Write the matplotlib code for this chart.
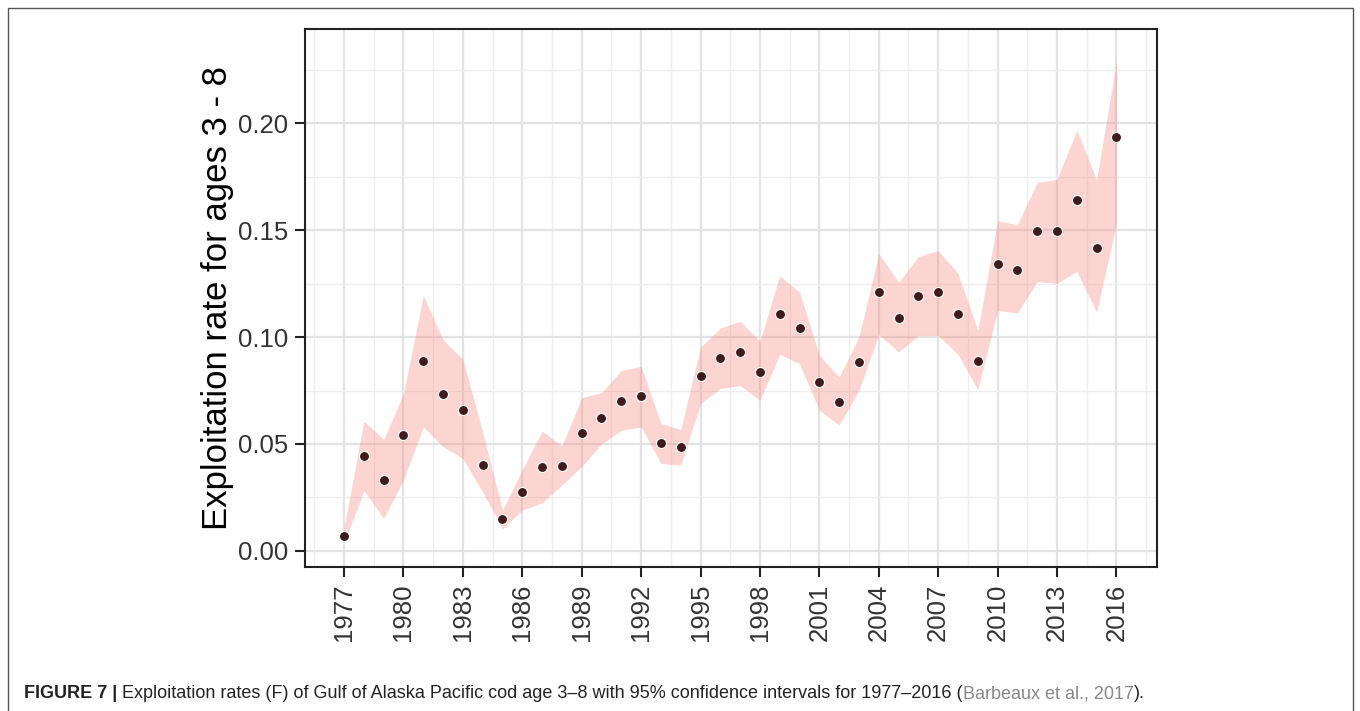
import numpy as np
import matplotlib
matplotlib.use('Agg')
import matplotlib.pyplot as plt
from matplotlib.patches import Rectangle

## data ##
years = np.arange(1977, 2017)

F = [0.007, 0.0445, 0.033, 0.054, 0.089, 0.0734, 0.0658, 0.0404, 0.0149, 0.0274,
     0.0392, 0.0398, 0.0552, 0.0623, 0.070, 0.0725, 0.0505, 0.0487, 0.0818, 0.0902,
     0.0931, 0.0835, 0.1109, 0.1043, 0.0788, 0.0694, 0.0885, 0.121, 0.109, 0.119,
     0.121, 0.1108, 0.0888, 0.134, 0.1315, 0.1494, 0.1494, 0.1642, 0.1418, 0.1937]

upper = [0.011, 0.0606, 0.0522, 0.0735, 0.1194, 0.0987, 0.0896, 0.0555, 0.0191, 0.038,
         0.0561, 0.049, 0.0716, 0.074, 0.0844, 0.0863, 0.0596, 0.0568, 0.0953, 0.1042,
         0.1074, 0.098, 0.1287, 0.121, 0.0914, 0.0813, 0.100, 0.1391, 0.1256, 0.1376,
         0.1404, 0.1298, 0.1031, 0.1544, 0.1525, 0.1723, 0.1737, 0.1967, 0.1734, 0.229]

lower = [0.004, 0.0281, 0.0152, 0.0331, 0.058, 0.0487, 0.0432, 0.0275, 0.0104, 0.0191,
         0.0225, 0.0308, 0.0395, 0.050, 0.0564, 0.058, 0.0409, 0.0401, 0.0689, 0.0759,
         0.0774, 0.0704, 0.0919, 0.0875, 0.0658, 0.0588, 0.0751, 0.1012, 0.093, 0.1007,
         0.1007, 0.0919, 0.0754, 0.1124, 0.1113, 0.1259, 0.1251, 0.1307, 0.1116, 0.1528]

xticks = np.arange(1977, 2017, 3)
yticks = [0.00, 0.05, 0.10, 0.15, 0.20]

caption_bold = 'FIGURE 7 |'
caption_text = ' Exploitation rates (F) of Gulf of Alaska Pacific cod age 3\u20138 with 95% confidence intervals for 1977\u20132016 ('
caption_ref = 'Barbeaux et al., 2017'
caption_end = ').'

plt.rcParams['font.family'] = ['Liberation Sans', 'DejaVu Sans']

fig = plt.figure(figsize=(13.6, 7.11), dpi=100)
W, H = 1360, 711
ax = fig.add_axes([305/W, 1 - 567/H, (1157-305)/W, (567-29)/H])

ax.fill_between(years, lower, upper, color='#f8766d', alpha=0.3, lw=0, zorder=2)
ax.scatter(years, F, s=52, color='#3f1c1b', edgecolors='white', linewidths=0.8, zorder=3)

ax.set_xlim(1975.03, 2018.05)
ax.set_ylim(-0.0075, 0.244)
ax.set_xticks(xticks)
ax.set_xticks(np.arange(1975.5, 2018, 1.5), minor=True)
ax.set_yticks(yticks)
ax.set_yticks(np.arange(0.025, 0.25, 0.05), minor=True)
ax.set_yticklabels(['%.2f' % v for v in yticks])
ax.set_xticklabels([str(v) for v in xticks], rotation=90)

ax.grid(which='major', color='#e3e3e3', lw=1.6, zorder=0)
ax.grid(which='minor', color='#eeeeee', lw=1.0, zorder=0)
ax.set_axisbelow(True)
ax.tick_params(which='major', length=7, width=1.5, color='#222222', labelsize=18.5,
               labelcolor='#333333', pad=5)
ax.tick_params(which='minor', length=0)
for s in ax.spines.values():
    s.set_color('#222222')
    s.set_linewidth(1.5)

ax.set_ylabel('Exploitation rate for ages 3 - 8', fontsize=25, labelpad=3)

# frame around the figure
fig.patches.append(Rectangle((8/W, -0.05), (1353-8)/W, 1.05 - 8/H, transform=fig.transFigure,
                             fill=False, edgecolor='#555555', lw=1.0))

# caption
cap_font = ['Liberation Sans Narrow', 'Liberation Sans', 'DejaVu Sans']
fs = 13
y_cap = 1 - 694/H
t1 = fig.text(24/W, y_cap, caption_bold, fontsize=fs, fontweight='bold', family=cap_font,
              va='center', color='#222222')
fig.canvas.draw()
bb = t1.get_window_extent()
t2 = fig.text(bb.x1/W, y_cap, caption_text, fontsize=fs, family=cap_font, va='center', color='#222222')
fig.canvas.draw()
bb = t2.get_window_extent()
t3 = fig.text(bb.x1/W, y_cap, caption_ref, fontsize=fs, family=cap_font, va='center', color='#888888')
fig.canvas.draw()
bb = t3.get_window_extent()
fig.text(bb.x1/W, y_cap, caption_end, fontsize=fs, family=cap_font, va='center', color='#222222')

plt.savefig('out.png', dpi=100)
